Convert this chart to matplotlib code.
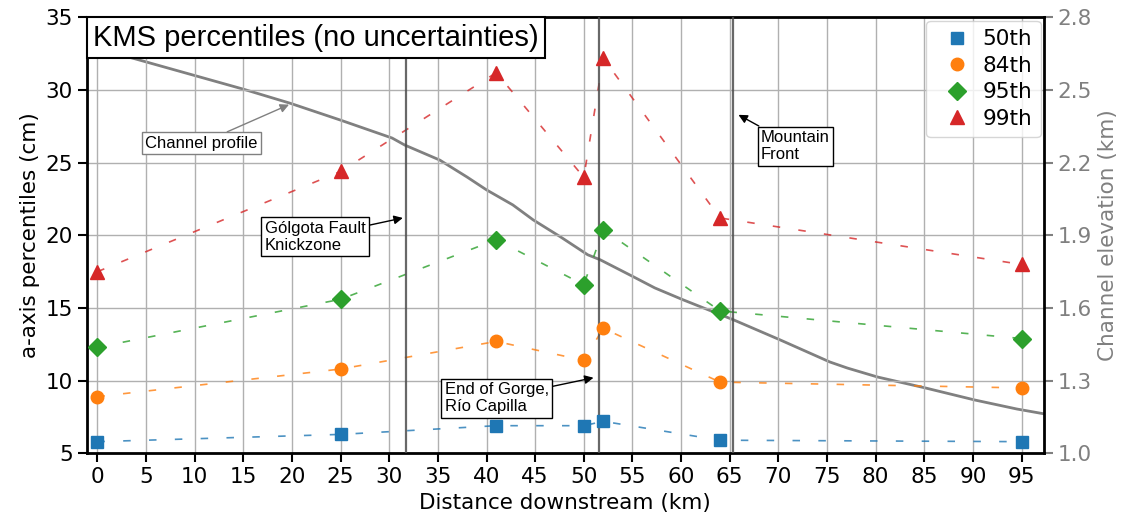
import matplotlib
matplotlib.use("Agg")
import matplotlib.pyplot as plt
from matplotlib.offsetbox import AnchoredText

# Sample sites along the channel (km downstream)
distance = [0, 25, 41, 50, 52, 64, 95]

# Grain-size percentiles of the a-axis (cm)
p50 = [5.8, 6.3, 6.9, 6.9, 7.2, 5.9, 5.8]
p84 = [8.9, 10.8, 12.7, 11.4, 13.6, 9.9, 9.5]
p95 = [12.3, 15.6, 19.7, 16.6, 20.4, 14.8, 12.9]
p99 = [17.5, 24.4, 31.2, 24.0, 32.2, 21.2, 18.0]

series_labels = ["50th", "84th", "95th", "99th"]
series_markers = ["s", "o", "D", "^"]
series_colors = ["#1f77b4", "#ff7f0e", "#2ca02c", "#d62728"]

# Long profile of the channel (km downstream, elevation km)
profile_dist = [0, 3.9, 15.0, 19.8, 25.0, 30.3, 31.6, 35.2, 38.0, 40.0, 42.7,
                44.8, 47.6, 50.4, 51.7, 55.1, 57.3, 60.2, 65.4, 70.2, 75.3,
                77.1, 80.2, 85.1, 90.2, 94.5, 98.0]
profile_elev = [2.672, 2.629, 2.504, 2.446, 2.376, 2.302, 2.273, 2.211, 2.141,
                2.088, 2.026, 1.964, 1.894, 1.820, 1.799, 1.729, 1.683, 1.634,
                1.551, 1.468, 1.377, 1.352, 1.315, 1.270, 1.220, 1.183, 1.158]

# Landmarks marked with vertical lines (km)
landmarks = [31.7, 51.6, 65.3]

x_ticks = list(range(0, 100, 5))
left_ticks = [5, 10, 15, 20, 25, 30, 35]
right_ticks = [1.0, 1.3, 1.6, 1.9, 2.2, 2.5, 2.8]

sans = ["Liberation Sans", "DejaVu Sans"]
fs = 15.5

fig = plt.figure(figsize=(11.27, 5.25), dpi=100)
ax = fig.add_axes([0.0769, 0.1366, 0.8494, 0.8301])
ax2 = ax.twinx()
ax.set_zorder(ax2.get_zorder() + 1)
ax.patch.set_visible(False)

# Channel profile on the secondary axis
ax2.plot(profile_dist, profile_elev, color="0.5", lw=2.0)
ax2.set_ylim(1.0, 2.8)
ax2.set_yticks(right_ticks)
ax2.set_yticklabels([f"{t:.1f}" for t in right_ticks])
ax2.tick_params(axis="y", colors="0.5", labelsize=fs, length=6.5, width=1.5,
                labelcolor="0.5")
ax2.set_ylabel("Channel elevation (km)", color="0.5", fontsize=fs)
for s in ax2.spines.values():
    s.set_visible(False)

# Percentile series: dashed connectors plus markers
handles = []
for vals, lab, mk, col in zip([p50, p84, p95, p99], series_labels,
                              series_markers, series_colors):
    ax.plot(distance, vals, color=col, lw=1.2, alpha=0.8,
            linestyle=(0, (4.5, 11)))
    h, = ax.plot(distance, vals, linestyle="none", marker=mk, color=col,
                 markersize=10 if mk == "^" else 9, label=lab, zorder=4)
    handles.append(h)

for xv in landmarks:
    ax.axvline(xv, color="0.3", lw=1.6, alpha=0.85, zorder=3)

ax.set_xlim(-1.1, 97.3)
ax.set_ylim(5, 35)
ax.set_xticks(x_ticks)
ax.set_yticks(left_ticks)
ax.grid(True, color="#b0b0b0", lw=1.0)
ax.set_axisbelow(True)
ax.tick_params(axis="both", labelsize=fs, length=6.5, width=1.5, color="black")
for s in ax.spines.values():
    s.set_color("black")
    s.set_linewidth(2.0)
ax.set_xlabel("Distance downstream (km)", fontsize=fs)
ax.set_ylabel("a-axis percentiles (cm)", fontsize=fs)

leg = ax.legend(handles=handles, loc="upper right", fontsize=fs,
                handletextpad=0.2, borderaxespad=0.15, labelspacing=0.3)

# Title box in the upper left corner
title = AnchoredText("KMS percentiles (no uncertainties)", loc="upper left",
                     pad=0.22, borderpad=0.0,
                     prop=dict(size=21, family=sans))
title.patch.set_boxstyle("square,pad=0")
title.patch.set_linewidth(1.5)
title.zorder = 6
ax.add_artist(title)

box = dict(boxstyle="square,pad=0.2", fc="white", ec="black", lw=1.0)
box_gray = dict(boxstyle="square,pad=0.2", fc="white", ec="0.5", lw=1.0)

ax.annotate("Channel profile", xy=(19.7, 2.44), xycoords=ax2.transData,
            xytext=(10.7, 26.35), textcoords="data", ha="center", va="center",
            fontsize=12, family=sans, bbox=box_gray, zorder=6,
            arrowprops=dict(arrowstyle="-|>", color="0.5", lw=1.0,
                            mutation_scale=13, shrinkA=0, shrinkB=0))
ax.annotate("Gólgota Fault\nKnickzone", xy=(31.4, 21.2), xytext=(17.2, 19.9),
            ha="left", va="center", fontsize=12, family=sans, bbox=box,
            zorder=6,
            arrowprops=dict(arrowstyle="-|>", color="black", lw=1.0,
                            mutation_scale=13, shrinkA=0, shrinkB=0))
ax.annotate("End of Gorge,\nRío Capilla", xy=(51.0, 10.2), xytext=(35.7, 8.8),
            ha="left", va="center", fontsize=12, family=sans, bbox=box,
            zorder=6,
            arrowprops=dict(arrowstyle="-|>", color="black", lw=1.0,
                            mutation_scale=13, shrinkA=0, shrinkB=0))
ax.annotate("Mountain\nFront", xy=(65.9, 28.3), xytext=(68.2, 26.15),
            ha="left", va="center", fontsize=12, family=sans, bbox=box,
            zorder=6,
            arrowprops=dict(arrowstyle="-|>", color="black", lw=1.0,
                            mutation_scale=13, shrinkA=0, shrinkB=0))

fig.savefig("out.png", dpi=100)
